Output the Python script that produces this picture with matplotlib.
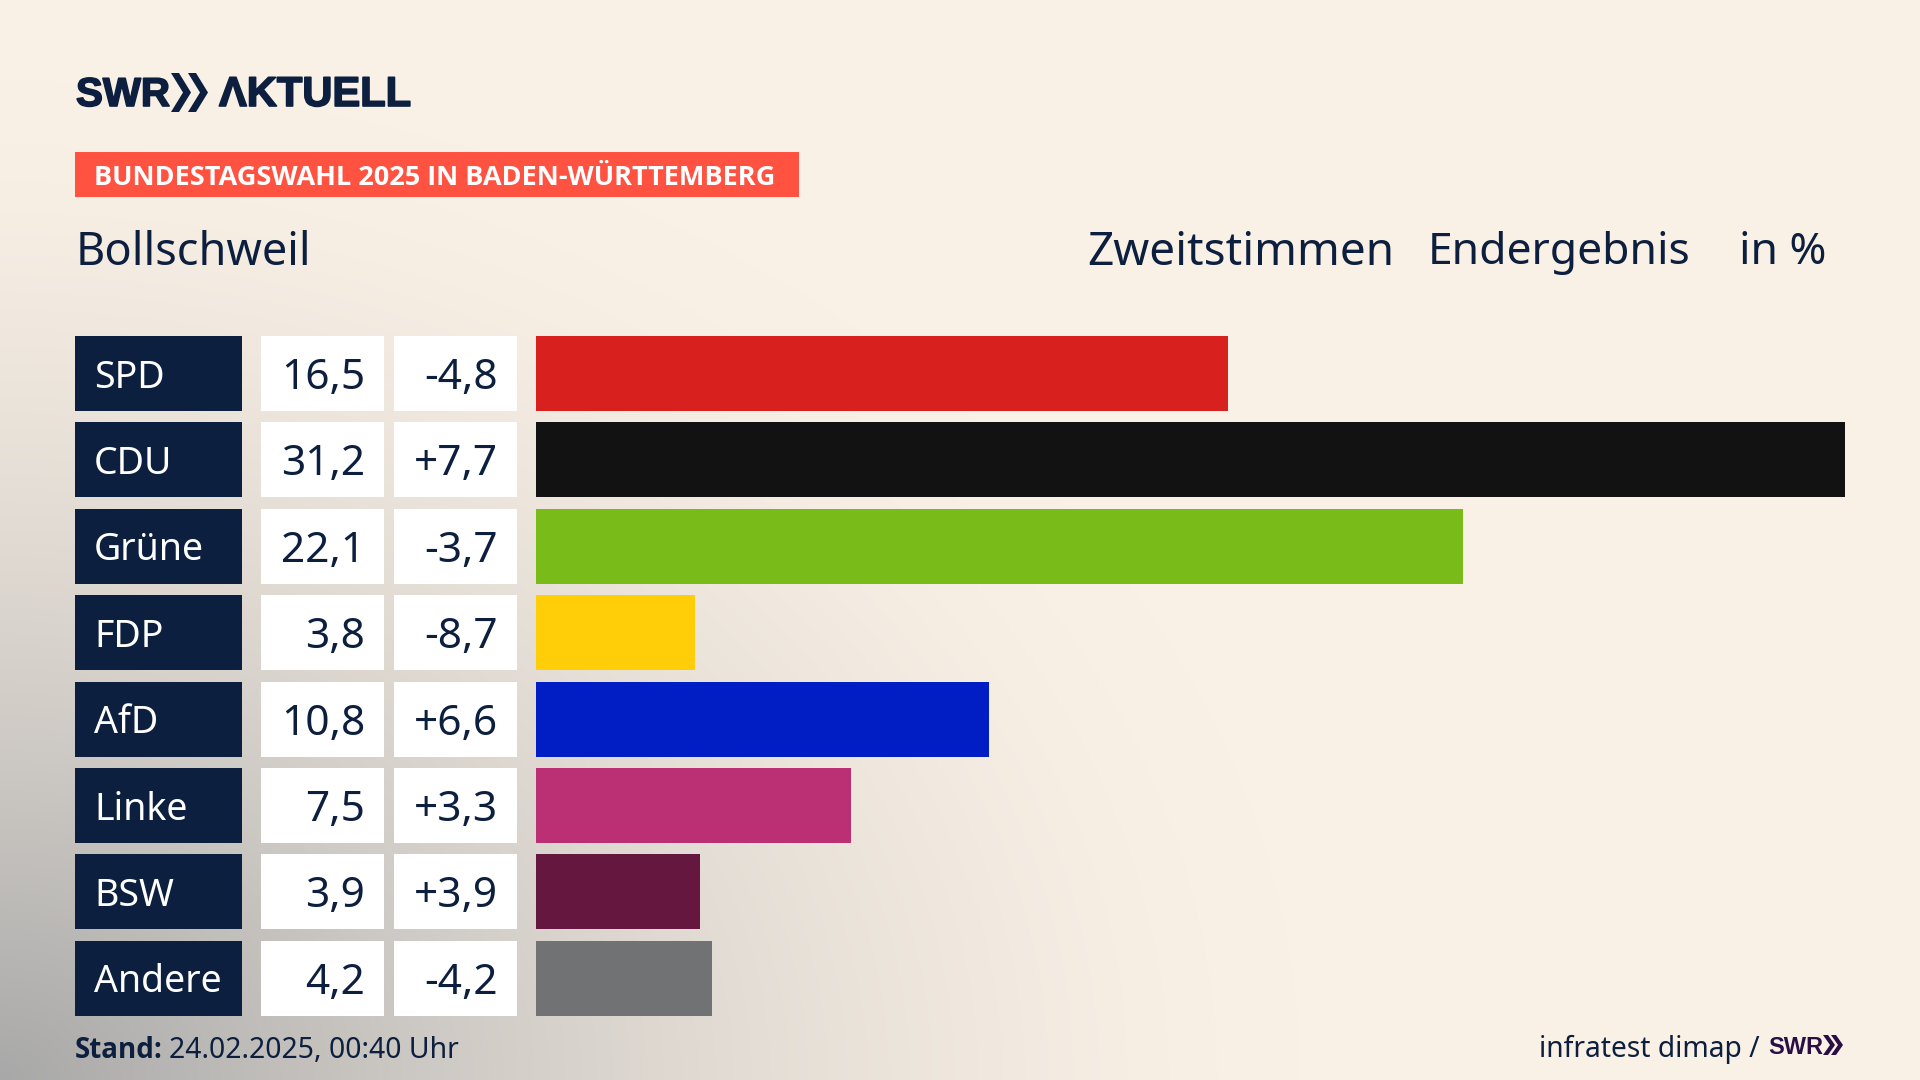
import numpy as np
import matplotlib
matplotlib.use("Agg")
import matplotlib.pyplot as plt
import matplotlib.patheffects as pe
from matplotlib.patches import Polygon, Rectangle

# data
parties = ["SPD", "CDU", "Grüne", "FDP", "AfD", "Linke", "BSW", "Andere"]
shares = [16.5, 31.2, 22.1, 3.8, 10.8, 7.5, 3.9, 4.2]
share_labels = ["16,5", "31,2", "22,1", "3,8", "10,8", "7,5", "3,9", "4,2"]
diff_labels = ["-4,8", "+7,7", "-3,7", "-8,7", "+6,6", "+3,3", "+3,9", "-4,2"]
colors = ["#D8201F", "#121212", "#79BC1A", "#FFCE08", "#001EC4", "#BB3075", "#65173F", "#717274"]

NAVY = "#0C1F3F"
PURPLE = "#2A0F45"
CREAM = np.array([250, 241, 230]) / 255
GREY = np.array([168, 168, 168]) / 255

plt.rcParams["font.family"] = ["Noto Sans", "DejaVu Sans"]

fig = plt.figure(figsize=(19.2, 10.8), dpi=100)

# background, pixel coordinates for everything outside the bars
bg = fig.add_axes([0, 0, 1, 1])
bg.set_xlim(0, 1920)
bg.set_ylim(1080, 0)
bg.axis("off")
yy, xx = np.mgrid[0:1080, 0:1920]
d = np.sqrt((xx / 1300.0) ** 2 + ((1080 - yy) / 1000.0) ** 2)
w = np.clip(1 - d, 0, 1) ** 1.5
img = CREAM[None, None, :] * (1 - w[..., None]) + GREY[None, None, :] * w[..., None]
bg.imshow(img, extent=(0, 1920, 1080, 0), aspect="auto", zorder=0)


def chevrons(starts, top, bottom, width, thick, color):
    mid = (top + bottom) / 2
    for x0 in starts:
        bg.add_patch(Polygon([[x0, top], [x0 + thick, top], [x0 + width, mid],
                              [x0 + thick, bottom], [x0, bottom], [x0 + width - thick, mid]],
                             closed=True, color=color, lw=0))


# header, thin stroke because the logo lettering is heavier than the font
heavy = [pe.withStroke(linewidth=1.2, foreground=NAVY)]
bg.text(76, 95, "SWR", family="Liberation Sans", weight="bold", fontsize=29,
        color=NAVY, va="center", ha="left", path_effects=heavy)
chevrons((171, 188), 73, 112, 20, 8, NAVY)
bg.text(219, 95, "ΛKTUELL", family="Liberation Sans", weight="bold", fontsize=30,
        color=NAVY, va="center", ha="left", path_effects=heavy)

bg.add_patch(Rectangle((75, 152), 724, 45, color="#FF5240", lw=0))
bg.text(94, 178, "BUNDESTAGSWAHL 2025 IN BADEN-WÜRTTEMBERG", color="white", fontsize=19.55,
        weight="bold", va="center", ha="left", family="Open Sans")

bg.text(76, 253, "Bollschweil", color=NAVY, fontsize=32.5, va="center", ha="left")
bg.text(1394, 253, "Zweitstimmen", color=NAVY, fontsize=33, va="center", ha="right")
bg.text(1690, 253, "Endergebnis", color=NAVY, fontsize=32, va="center", ha="right")
bg.text(1826, 253, "in %", color=NAVY, fontsize=32, va="center", ha="right")

# rows
row_top = 336
row_step = 86.4
row_h = 75
for i, party in enumerate(parties):
    top = row_top + i * row_step
    mid = top + row_h / 2
    bg.add_patch(Rectangle((75, top), 167, row_h, color=NAVY, lw=0))
    bg.add_patch(Rectangle((261, top), 122.5, row_h, color="white", lw=0))
    bg.add_patch(Rectangle((394, top), 123, row_h, color="white", lw=0))
    bg.text(94, mid + 4, party, color="white", fontsize=27, va="center", ha="left")
    bg.text(365, mid + 4.5, share_labels[i], color=NAVY, fontsize=30.5, va="center", ha="right")
    bg.text(498, mid + 4.5, diff_labels[i], color=NAVY, fontsize=30.5, va="center", ha="right")

# bars drawn on a real value axis
ax = fig.add_axes([536 / 1920, 0, (1845 - 536) / 1920, 1])
ax.patch.set_alpha(0)
ax.set_xlim(0, 31.2)
ax.set_ylim(1080, 0)
ax.axis("off")
ax.barh([row_top + i * row_step + row_h / 2 for i in range(len(shares))], shares,
        height=row_h, color=colors, linewidth=0)

# footer
bg.text(75, 1050, "Stand:", color=NAVY, fontsize=20, weight="bold", va="center", ha="left",
        family="Open Sans")
bg.text(169, 1050, "24.02.2025, 00:40 Uhr", color=NAVY, fontsize=20.4, va="center", ha="left")
bg.text(1760, 1049, "infratest dimap /", color=NAVY, fontsize=20.3, va="center", ha="right")
bg.text(1768, 1047, "SWR", family="Liberation Sans", weight="bold", fontsize=17,
        color=PURPLE, va="center", ha="left")
chevrons((1823, 1831), 1035, 1055, 12, 5, PURPLE)

fig.savefig("out.png", dpi=100)
